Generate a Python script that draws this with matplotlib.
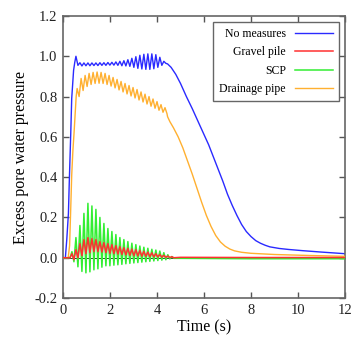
import numpy as np
import matplotlib
matplotlib.use('Agg')
import matplotlib.pyplot as plt

plt.rcParams['font.family'] = ['Liberation Serif', 'DejaVu Serif']

# oscillation period (s)
period = 0.17

# ---- No measures (blue) ----
blue_rise_t = [0.0, 0.10, 0.16, 0.23, 0.27, 0.33, 0.37, 0.45, 0.50]
blue_rise_p = [0.0, 0.0, 0.09, 0.22, 0.39, 0.62, 0.79, 0.93, 0.97]
blue_t0 = 0.55
blue_peaks = [1.00, 0.968, 0.967, 0.967, 0.967, 0.967, 0.968, 0.968, 0.969, 0.970,
              0.972, 0.975, 0.978, 0.983, 0.990, 0.998, 1.005, 1.010, 1.012, 1.012,
              1.008, 0.995, 0.975]
blue_troughs = [0.955, 0.952, 0.953, 0.953, 0.954, 0.954, 0.955, 0.955, 0.956, 0.956,
                0.955, 0.953, 0.952, 0.950, 0.945, 0.940, 0.937, 0.935, 0.935, 0.938,
                0.945, 0.955, 0.965]
blue_fall_t = [4.45, 4.6, 4.8, 5.0, 5.25, 5.5, 5.83, 6.2, 6.55, 6.8, 7.0, 7.2, 7.4, 7.6,
               7.8, 8.0, 8.2, 8.4, 8.6, 8.8, 9.2, 9.6, 10.2, 11.0, 12.0]
blue_fall_p = [0.962, 0.945, 0.91, 0.865, 0.80, 0.74, 0.655, 0.56, 0.455, 0.38, 0.315,
               0.26, 0.21, 0.165, 0.13, 0.105, 0.085, 0.072, 0.062, 0.054, 0.046, 0.041,
               0.035, 0.028, 0.02]

# ---- Drainage pipe (orange) ----
orange_rise_t = [0.0, 0.22, 0.28, 0.33, 0.37, 0.42, 0.47, 0.52, 0.56]
orange_rise_p = [0.0, 0.0, 0.06, 0.25, 0.41, 0.53, 0.62, 0.72, 0.80]
orange_t0 = 0.60
orange_peaks = [0.84, 0.89, 0.905, 0.915, 0.92, 0.922, 0.92, 0.915, 0.905, 0.895,
                0.885, 0.875, 0.865, 0.855, 0.845, 0.835, 0.823, 0.812, 0.800, 0.788,
                0.775, 0.760, 0.745]
orange_troughs = [0.80, 0.83, 0.85, 0.86, 0.865, 0.866, 0.865, 0.86, 0.852, 0.843,
                  0.833, 0.823, 0.813, 0.803, 0.793, 0.783, 0.773, 0.763, 0.752, 0.742,
                  0.732, 0.722, 0.715]
orange_fall_t = [4.45, 4.55, 4.7, 4.9, 5.1, 5.3, 5.5, 5.7, 5.9, 6.1, 6.3, 6.5, 6.7, 6.9,
                 7.1, 7.3, 7.6, 8.0, 9.0, 10.5, 12.0]
orange_fall_p = [0.70, 0.675, 0.645, 0.60, 0.545, 0.48, 0.415, 0.345, 0.275, 0.21, 0.155,
                 0.11, 0.078, 0.057, 0.043, 0.034, 0.027, 0.022, 0.016, 0.011, 0.007]

# ---- SCP (green) ----
scp_t0 = 0.38
scp_peaks = [0.03, 0.10, 0.16, 0.22, 0.27, 0.257, 0.24, 0.20, 0.17, 0.145, 0.13, 0.115,
             0.10, 0.09, 0.08, 0.072, 0.065, 0.058, 0.052, 0.047, 0.042, 0.038, 0.033,
             0.025, 0.015, 0.006]
scp_troughs = [-0.02, -0.045, -0.068, -0.075, -0.07, -0.06, -0.055, -0.047, -0.04, -0.04,
               -0.037, -0.035, -0.033, -0.03, -0.028, -0.026, -0.024, -0.022, -0.02,
               -0.018, -0.016, -0.014, -0.012, -0.01, -0.006, -0.003]
scp_tail_t = [5.0, 8.0, 12.0]
scp_tail_p = [-0.003, -0.005, -0.005]

# ---- Gravel pile (red) ----
gravel_t0 = 0.38
gravel_peaks = [0.02, 0.04, 0.07, 0.09, 0.10, 0.095, 0.09, 0.08, 0.075, 0.07, 0.065, 0.06,
                0.055, 0.05, 0.047, 0.043, 0.04, 0.036, 0.032, 0.028, 0.024, 0.02, 0.016,
                0.012, 0.008, 0.005]
gravel_troughs = [-0.01, 0.0, 0.01, 0.02, 0.025, 0.03, 0.03, 0.028, 0.025, 0.022, 0.02,
                  0.018, 0.016, 0.014, 0.012, 0.01, 0.009, 0.008, 0.007, 0.006, 0.005,
                  0.004, 0.003, 0.002, 0.001, 0.0]
gravel_tail_t = [5.0, 8.0, 12.0]
gravel_tail_p = [0.002, 0.001, 0.001]


def zigzag(t0, peaks, troughs):
    n = len(peaks)
    tk = t0 + period * np.arange(n)
    t = np.empty(2 * n)
    p = np.empty(2 * n)
    t[0::2] = tk
    t[1::2] = tk + period / 2
    p[0::2] = peaks
    p[1::2] = troughs
    return t, p


bt, bp = zigzag(blue_t0, blue_peaks, blue_troughs)
blue_t = np.concatenate([blue_rise_t, bt, blue_fall_t])
blue_p = np.concatenate([blue_rise_p, bp, blue_fall_p])

ot, op = zigzag(orange_t0, orange_peaks, orange_troughs)
orange_t = np.concatenate([orange_rise_t, ot, orange_fall_t])
orange_p = np.concatenate([orange_rise_p, op, orange_fall_p])

st, sp = zigzag(scp_t0, scp_peaks, scp_troughs)
scp_t = np.concatenate([[0.0, 0.3], st, scp_tail_t])
scp_p = np.concatenate([[0.0, 0.0], sp, scp_tail_p])

gt, gp = zigzag(gravel_t0, gravel_peaks, gravel_troughs)
gravel_t = np.concatenate([[0.0, 0.3], gt, gravel_tail_t])
gravel_p = np.concatenate([[0.0, 0.0], gp, gravel_tail_p])

fig = plt.figure(figsize=(3.54, 3.38), dpi=100)
ax = fig.add_axes([0.178, 0.1183, 0.7966, 0.8344])

ax.axhline(0, color='#334433', lw=0.7, zorder=1)
l_blue, = ax.plot(blue_t, blue_p, color='#2a2aff', lw=1.0, zorder=2)
l_orange, = ax.plot(orange_t, orange_p, color='#ffb030', lw=1.0, zorder=3)
l_scp, = ax.plot(scp_t, scp_p, color='#33ee33', lw=1.1, zorder=4)
l_gravel, = ax.plot(gravel_t, gravel_p, color='#ff3030', lw=1.1, zorder=5)

ax.set_xlim(0, 12)
ax.set_ylim(-0.2, 1.2)
ax.set_xticks(np.arange(0, 13, 2))
ax.set_yticks(np.arange(-0.2, 1.21, 0.2))
ax.set_yticklabels(['-0.2', '0.0', '0.2', '0.4', '0.6', '0.8', '1.0', '1.2'])
ax.tick_params(direction='in', top=True, right=True, length=4, width=1,
               color='#555555', labelsize=10.5, labelcolor='#222222', pad=4)
for s in ax.spines.values():
    s.set_color('#666666')
    s.set_linewidth(1.2)

ax.set_xlabel('Time (s)', fontsize=11.5, labelpad=2)
ax.set_ylabel('Excess pore water pressure', fontsize=11.5, labelpad=4)

leg = ax.legend([l_blue, l_gravel, l_scp, l_orange],
                ['No measures', 'Gravel pile', 'SCP', 'Drainage pipe'],
                loc='upper right', bbox_to_anchor=(339 / 354, 1 - 22 / 338),
                bbox_transform=fig.transFigure, borderaxespad=0,
                markerfirst=False, fontsize=8.5, fancybox=False, framealpha=1,
                edgecolor='#666666', handlelength=3.2, labelspacing=0.55,
                borderpad=0.5, handletextpad=0.8)
leg.get_frame().set_linewidth(1.0)

fig.savefig('out.png', dpi=100)
plt.close()
